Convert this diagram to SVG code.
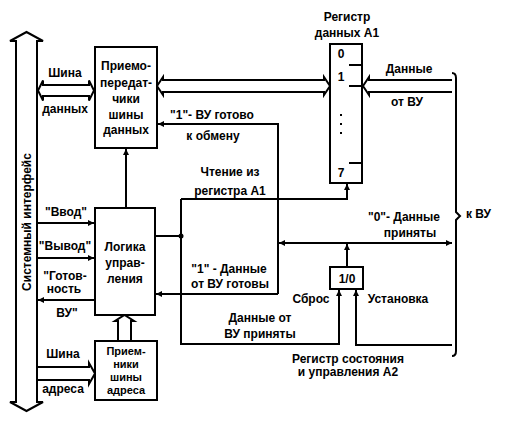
<svg xmlns="http://www.w3.org/2000/svg" width="513" height="421" viewBox="0 0 513 421">
<style>
text{font-family:"Liberation Sans",Arial,sans-serif;font-size:12px;font-weight:bold;fill:#000;text-anchor:middle}
.sm{font-size:11px}
.box{fill:#fff;stroke:#000;stroke-width:2}
.ln{fill:none;stroke:#000;stroke-width:2}
.a{marker-end:url(#ah)}
.aa{marker-end:url(#ah);marker-start:url(#ah)}
</style>
<defs>
<marker id="ah" markerUnits="userSpaceOnUse" markerWidth="7" markerHeight="6" refX="6" refY="3" orient="auto-start-reverse">
<path d="M0,0 L6,3 L0,6 z" fill="#000"/>
</marker>
</defs>
<rect width="513" height="421" fill="#fff"/>

<g id="sysbus">
<path class="ln" d="M16,402 L16,41 L10,41 L26.5,32 L43,41 L37,41 L37,402 L43,402 L26.5,411 L10,402 Z"/>
<text transform="translate(31,222) rotate(-90)">Системный интерфейс</text>
</g>

<g id="connectors">
<path class="ln" d="M38,90.5 L43,80.5 L43,85 L89,85 L89,80.5 L94,90.5 L89,100.5 L89,96 L43,96 L43,100.5 Z"/>
<path class="ln" d="M157,86 L163,77 L163,80 L324,80 L324,77 L330,86 L324,95 L324,92 L163,92 L163,95 Z"/>
<path class="ln" d="M452,80 L369,80 L369,77 L363,86 L369,95 L369,92 L452,92"/>
<path class="ln" d="M37,367 L89,367 L89,363 L95,373.5 L89,384 L89,380 L37,380"/>
<path class="ln" d="M118,341 L118,321 L115,321 L124.5,315 L134,321 L131,321 L131,341"/>
<path class="ln a" d="M126,208 L126,149"/>
<path class="ln a" d="M37,223 L94,223"/>
<path class="ln a" d="M37,258 L94,258"/>
<path class="ln a" d="M95,300 L38,300"/>
<path class="ln" d="M155,236 L181,236"/>
<circle cx="181" cy="236" r="2.5" fill="#000"/>
<path class="ln a" d="M181,199 L347,199 L347,184"/>
<path class="ln a" d="M181,199 L181,344 L339,344 L339,290"/>
<path class="ln a" d="M278,294 L278,124 L158,124"/>
<path class="ln a" d="M278,294 L156,294"/>
<path class="ln aa" d="M279,243 L452,243"/>
<path class="ln a" d="M347,267 L347,244"/>
<path class="ln a" d="M452,345 L356,345 L356,290"/>
<path class="ln" d="M452,73 Q456,73 456,78 L456,212 L460,216 L456,220 L456,351 Q456,356 452,356"/>
</g>

<g id="transceivers">
<rect class="box" x="95" y="47" width="62" height="101"/>
<text x="126" y="70">Приемо-</text>
<text x="126" y="87">передат-</text>
<text x="126" y="103">чики</text>
<text x="126" y="119">шины</text>
<text x="126" y="134">данных</text>
</g>

<g id="logic">
<rect class="box" x="95" y="208" width="60" height="107"/>
<text x="125" y="251">Логика</text>
<text x="125" y="267">управ-</text>
<text x="125" y="283">ления</text>
</g>

<g id="receivers">
<rect class="box" x="95" y="341" width="62" height="59"/>
<text class="sm" x="126" y="355">Прием-</text>
<text class="sm" x="126" y="368">ники</text>
<text class="sm" x="126" y="381">шины</text>
<text class="sm" x="126" y="394">адреса</text>
</g>

<g id="regA1">
<rect class="box" x="330" y="44" width="32" height="139"/>
<path class="ln" d="M349,65 L362,65 M349,86 L362,86 M349,163 L362,163"/>
<text x="341" y="58">0</text>
<text x="341" y="81">1</text>
<rect x="340" y="114" width="2" height="2"/>
<rect x="340" y="123" width="2" height="2"/>
<rect x="340" y="132" width="2" height="2"/>
<text x="341" y="177">7</text>
<text x="347" y="21">Регистр</text>
<text x="347" y="37">данных А1</text>
</g>

<g id="flag">
<rect class="box" x="330" y="267" width="33" height="22"/>
<text x="347" y="283">1/0</text>
</g>

<g id="labels">
<text x="65" y="77">Шина</text>
<text x="65" y="113">данных</text>
<text x="409" y="73">Данные</text>
<text x="407" y="106">от ВУ</text>
<text x="212" y="119">"1"- ВУ готово</text>
<text x="213" y="140">к обмену</text>
<text x="230" y="176">Чтение из</text>
<text x="230" y="195">регистра А1</text>
<text x="404" y="221">"0"- Данные</text>
<text x="410" y="237">приняты</text>
<text x="466" y="218" style="text-anchor:start">к ВУ</text>
<text x="66" y="216">"Ввод"</text>
<text x="65" y="250">"Вывод"</text>
<text x="65" y="280">"Готов-</text>
<text x="64" y="293">ность</text>
<text x="67" y="317">ВУ"</text>
<text x="229" y="273">"1" - Данные</text>
<text x="230" y="288">от ВУ готовы</text>
<text x="311" y="303">Сброс</text>
<text x="398" y="303">Установка</text>
<text x="260" y="322">Данные от</text>
<text x="260" y="338">ВУ приняты</text>
<text x="348" y="363">Регистр состояния</text>
<text x="348" y="376">и управления А2</text>
<text x="63" y="358">Шина</text>
<text x="63" y="393">адреса</text>
</g>
</svg>
